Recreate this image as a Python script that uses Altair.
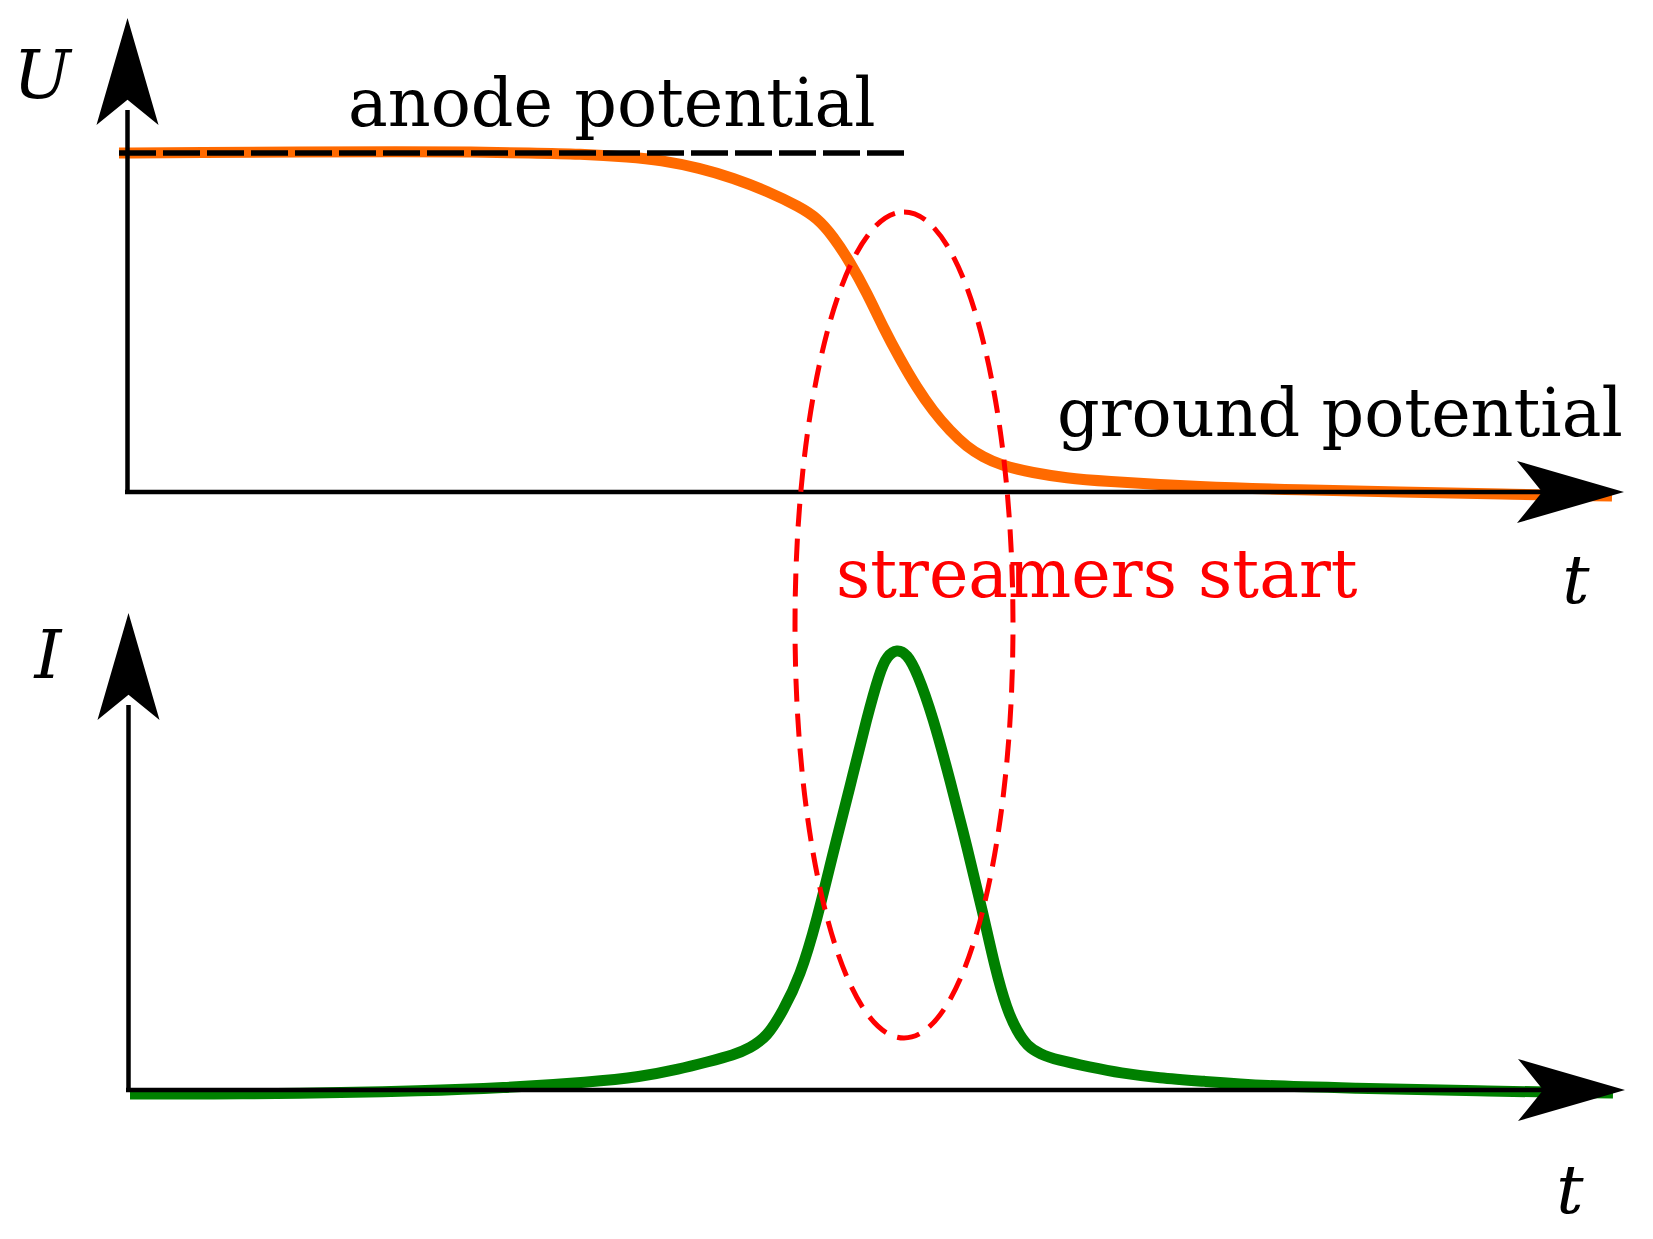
import altair as alt
import pandas as pd

# All values are positions on the 1653x1239 sheet.

# ---- U(t): orange voltage curve
u_x = [119, 200, 300, 400, 474, 530, 580, 630, 660, 700, 733, 767, 800, 817, 833,
       850, 867, 883, 900, 917, 933, 950, 967, 983, 1000, 1033, 1067, 1100, 1200,
       1300, 1400, 1500, 1612]
u_y = [153, 152.5, 152, 151.5, 152, 153, 154, 157, 160, 168, 178, 191, 207, 218, 236,
       262, 293, 327, 359, 388, 411, 431, 447, 457, 465, 473, 478, 481, 487,
       490, 492, 494, 496]

# ---- I(t): green current pulse
i_x = [130, 250, 323, 420, 502, 591, 640, 680, 707, 734, 750, 767, 783, 800,
       817, 833, 850, 867, 880, 887, 897, 907, 917, 933, 950, 967, 983, 995, 1007,
       1017, 1027, 1040, 1057, 1090, 1120, 1160, 1200, 1265, 1350, 1476, 1613]
i_y = [1094, 1094, 1093, 1091, 1088, 1082, 1077, 1069, 1062, 1055, 1048, 1037, 1011, 977,
       920, 853, 787, 717, 671, 656, 649, 654, 672, 717, 780, 847, 913, 968, 1010,
       1031, 1046, 1054, 1060, 1067, 1073, 1078, 1081, 1086, 1088, 1091, 1093]

# ---- axis lines (start / end)
ax_x1 = [127.5, 125, 128.5, 126]
ax_y1 = [110, 492, 705, 1090]
ax_x2 = [127.5, 1560, 128.5, 1560]
ax_y2 = [494, 492, 1092, 1090]

# ---- arrow tips
up_tip_x = [127.5, 128.5]
up_tip_y = [18, 613]
right_tip_x = [1624, 1625]
right_tip_y = [492, 1090]

# ---- anode potential dashed reference line
anode_x = [119, 907]
anode_y = [153, 153]

# ---- ellipse "streamers start"
ell_cx = [904]
ell_cy = [625]

# ---- labels
plain_text = ["anode potential", "ground potential"]
plain_x = [348, 1057]
plain_y = [126, 436]
red_text = ["streamers start"]
red_x = [836]
red_y = [597]
ital_text = ["U", "I", "t", "t"]
ital_x = [42, 48, 1576, 1570]
ital_y = [98, 678, 603, 1213]

ARROW_LEN = 107
half = ARROW_LEN / 2

df_u = pd.DataFrame({"x": u_x, "y": u_y})
df_i = pd.DataFrame({"x": i_x, "y": i_y})
df_ax = pd.DataFrame({"x": ax_x1, "y": ax_y1, "x2": ax_x2, "y2": ax_y2})
df_up = pd.DataFrame({"x": up_tip_x, "y": [v + half for v in up_tip_y]})
df_right = pd.DataFrame({"x": [v - half for v in right_tip_x], "y": right_tip_y})
df_anode = pd.DataFrame({"x": anode_x, "y": anode_y})
df_ell = pd.DataFrame({"x": ell_cx, "y": ell_cy})
df_plain = pd.DataFrame({"x": plain_x, "y": plain_y, "text": plain_text})
df_red = pd.DataFrame({"x": red_x, "y": red_y, "text": red_text})
df_ital = pd.DataFrame({"x": ital_x, "y": ital_y, "text": ital_text})

X = alt.X("x:Q", scale=alt.Scale(domain=[8, 1645], nice=False, zero=False), axis=None)
Y = alt.Y("y:Q", scale=alt.Scale(domain=[8, 1231], reverse=True, nice=False, zero=False), axis=None)

orange = alt.Chart(df_u).mark_line(color="#ff6a00", strokeWidth=11, interpolate="basis").encode(x=X, y=Y)
green = alt.Chart(df_i).mark_line(color="#008000", strokeWidth=11, interpolate="basis").encode(x=X, y=Y)
axes = alt.Chart(df_ax).mark_rule(color="black", strokeWidth=4.5).encode(
    x=X, y=Y, x2=alt.X2("x2:Q"), y2=alt.Y2("y2:Q"))
anode = alt.Chart(df_anode).mark_line(color="black", strokeWidth=5.5, strokeDash=[37, 7]).encode(x=X, y=Y)

up_path = "M0,-1 L0.58,1 L0,0.53 L-0.58,1 Z"
right_path = "M1,0 L-1,0.58 L-0.53,0 L-1,-0.58 Z"
arrows_up = alt.Chart(df_up).mark_point(shape=up_path, filled=True, color="black", opacity=1,
                                        size=ARROW_LEN ** 2).encode(x=X, y=Y)
arrows_right = alt.Chart(df_right).mark_point(shape=right_path, filled=True, color="black", opacity=1,
                                              size=ARROW_LEN ** 2).encode(x=X, y=Y)

ell_path = ("M0,-1 C0.1458,-1 0.2639,-0.5523 0.2639,0 C0.2639,0.5523 0.1458,1 0,1 "
            "C-0.1458,1 -0.2639,0.5523 -0.2639,0 C-0.2639,-0.5523 -0.1458,-1 0,-1 Z")
ellipse = alt.Chart(df_ell).mark_point(shape=ell_path, filled=False, color="#ff0000", opacity=1,
                                       strokeWidth=5, strokeDash=[23, 12],
                                       size=(2 * 413) ** 2).encode(x=X, y=Y)

plain = alt.Chart(df_plain).mark_text(align="left", baseline="alphabetic", font="DejaVu Serif",
                                      fontSize=66.7, color="black").encode(x=X, y=Y, text="text:N")
red = alt.Chart(df_red).mark_text(align="left", baseline="alphabetic", font="DejaVu Serif",
                                  fontSize=66.7, color="#ff0000").encode(x=X, y=Y, text="text:N")
ital = alt.Chart(df_ital).mark_text(align="center", baseline="alphabetic", font="DejaVu Serif",
                                    fontStyle="italic", fontSize=68, color="black").encode(
    x=X, y=Y, text="text:N")

chart = alt.layer(orange, green, axes, anode, arrows_up, arrows_right, plain, red, ital, ellipse).properties(
    width=1637, height=1223, autosize=alt.AutoSizeParams(type="none"), padding=0,
    background="white").configure_view(strokeWidth=0)

chart.save("out.html", embed_options={"renderer": "svg", "actions": False})
